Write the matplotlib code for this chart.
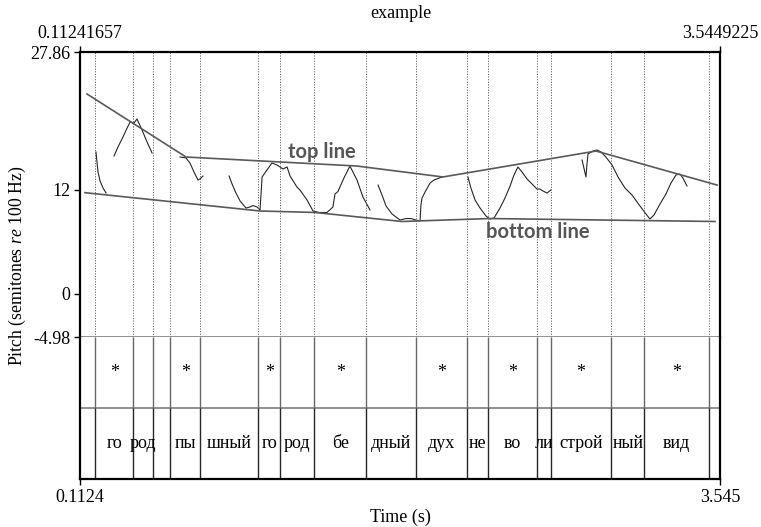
import matplotlib
matplotlib.use("Agg")
import matplotlib.pyplot as plt

plt.rcParams['font.family'] = ['Liberation Serif', 'DejaVu Serif']
plt.rcParams['mathtext.fontset'] = 'custom'
plt.rcParams['mathtext.rm'] = 'Liberation Serif'
plt.rcParams['mathtext.it'] = 'Liberation Serif:italic'

# ---- data ----
t_min, t_max = 0.11241657, 3.5449225
p_min, p_max = -4.98, 27.86
y_ticks = [27.86, 12, 0, -4.98]
y_tick_labels = ['27.86', '12', '0', '-4.98']

# pitch contour segments (time s, semitones re 100 Hz)
seg_a_t = [0.198, 0.204, 0.209, 0.220, 0.236, 0.252]
seg_a_p = [16.34, 15.07, 14.03, 13.00, 12.19, 11.61]
seg_b_t = [0.295, 0.316, 0.343, 0.365, 0.381, 0.402, 0.418, 0.445, 0.472, 0.499]
seg_b_p = [15.88, 16.91, 18.07, 19.10, 19.79, 19.68, 20.14, 18.87, 17.49, 16.22]
seg_c_t = [0.649, 0.681, 0.702, 0.724, 0.745, 0.756, 0.772]
seg_c_p = [15.76, 15.65, 15.07, 14.03, 13.11, 13.23, 13.57]
seg_d_t = [0.912, 0.928, 0.949, 0.971, 1.003, 1.024, 1.040, 1.062, 1.078, 1.083,
           1.089, 1.115, 1.142, 1.169, 1.185, 1.201, 1.223, 1.239, 1.276, 1.292,
           1.330, 1.362, 1.394, 1.437, 1.469, 1.480, 1.496, 1.528, 1.560, 1.598,
           1.630, 1.668]
seg_d_p = [13.57, 12.65, 11.61, 10.69, 9.88, 10.00, 10.17, 10.00, 9.65, 11.38,
           13.46, 14.26, 15.07, 14.84, 14.61, 14.38, 14.61, 13.57, 12.30, 11.96,
           10.81, 9.54, 9.37, 9.37, 10.00, 11.50, 11.79, 13.34, 14.72, 13.11,
           11.15, 9.65]
seg_e_t = [1.711, 1.732, 1.754, 1.786, 1.829, 1.861, 1.888, 1.914, 1.936, 1.941,
           1.947, 1.963, 1.990, 2.011, 2.032, 2.059]
seg_e_p = [12.53, 11.38, 10.11, 9.19, 8.50, 8.67, 8.67, 8.50, 8.39, 10.23,
           11.04, 11.73, 12.76, 13.11, 13.28, 13.51]
seg_f_t = [2.193, 2.209, 2.231, 2.258, 2.290, 2.311, 2.333, 2.365, 2.392, 2.419,
           2.440, 2.461, 2.483, 2.510, 2.537, 2.563, 2.579, 2.596, 2.617, 2.638]
seg_f_p = [13.46, 12.19, 10.81, 9.88, 8.96, 8.62, 8.73, 9.88, 11.04, 12.42,
           13.69, 14.61, 14.03, 13.23, 12.65, 12.07, 12.07, 11.84, 11.61, 11.96]
seg_g_t = [2.805, 2.815, 2.826, 2.831, 2.837, 2.864, 2.885, 2.907, 2.933, 2.966,
           2.998, 3.035, 3.073, 3.116, 3.148, 3.169, 3.191, 3.223, 3.255, 3.282,
           3.309, 3.330, 3.346, 3.368]
seg_g_p = [15.42, 14.49, 13.46, 14.84, 16.11, 16.45, 16.57, 16.34, 15.76, 14.84,
           13.46, 12.19, 11.38, 10.11, 9.19, 8.62, 9.08, 10.34, 11.50, 12.76,
           13.69, 13.80, 13.34, 12.42]
segments = [(seg_a_t, seg_a_p), (seg_b_t, seg_b_p), (seg_c_t, seg_c_p),
            (seg_d_t, seg_d_p), (seg_e_t, seg_e_p), (seg_f_t, seg_f_p),
            (seg_g_t, seg_g_p)]

top_line_t = [0.150, 0.681, 1.598, 2.059, 2.880, 3.529]
top_line_p = [23.02, 15.76, 14.72, 13.46, 16.45, 12.53]
bottom_line_t = [0.139, 1.078, 1.373, 1.839, 2.311, 3.518]
bottom_line_p = [11.65, 9.54, 9.37, 8.33, 8.67, 8.33]
top_label_pos = (1.410, 16.34)
bottom_label_pos = (2.569, 7.13)

# TextGrid intervals
boundaries = [0.1945, 0.3967, 0.505, 0.5972, 0.7581, 1.0692, 1.1861, 1.3674,
              1.6485, 1.9129, 2.1896, 2.3023, 2.5651, 2.6359, 2.962, 3.1389, 3.4876]
syllables = ['', 'го', 'род', '', 'пы', 'шный', 'го', 'род', 'бе', 'дный',
             'дух', 'не', 'во', 'ли', 'строй', 'ный', 'вид', '']
stress = ['', '*', '', '', '*', '', '*', '', '*', '', '*', '', '*', '', '*', '', '*', '']

# ---- figure ----
fig = plt.figure(figsize=(7.61, 5.27), dpi=100)
W, H = 761, 527
left, right = 80 / W, 720 / W
ax_p = fig.add_axes([left, 1 - 337 / H, right - left, (337 - 52) / H])
ax_t = fig.add_axes([left, 1 - 479 / H, right - left, (479 - 337) / H])

black_lw = 1.6
# pitch panel
for tt, pp in segments:
    ax_p.plot(tt, pp, color='0.15', lw=0.8)
ax_p.plot(top_line_t, top_line_p, color='0.35', lw=1.2)
ax_p.plot(bottom_line_t, bottom_line_p, color='0.35', lw=1.2)
for b in boundaries:
    ax_p.axvline(b, color='0.4', lw=0.7, ls=(0, (1.2, 1.5)))
ax_p.text(*top_label_pos, 'top line', family=['Lato', 'DejaVu Sans'], weight='bold',
          fontsize=14.5, color='#555555', ha='center', va='center')
ax_p.text(*bottom_label_pos, 'bottom line', family=['Lato', 'DejaVu Sans'], weight='bold',
          fontsize=14.5, color='#555555', ha='center', va='center')

ax_p.set_xlim(t_min, t_max)
ax_p.set_ylim(p_min, p_max)
ax_p.set_yticks(y_ticks)
ax_p.set_yticklabels(y_tick_labels)
ax_p.xaxis.tick_top()
ax_p.set_xticks([t_min, t_max])
ax_p.set_xticklabels(['0.11241657', '3.5449225'])
ax_p.tick_params(axis='both', direction='out', length=4, width=1, labelsize=13, pad=3)
for s in ['left', 'top', 'right']:
    ax_p.spines[s].set_linewidth(black_lw)
    ax_p.spines[s].set_color('black')
ax_p.spines['bottom'].set_color('0.45')
ax_p.spines['bottom'].set_linewidth(1.1)

# tier panel
ax_t.set_xlim(t_min, t_max)
ax_t.set_ylim(0, 2)
ax_t.axhline(1, color='0.45', lw=1.1)
ax_t.vlines(boundaries, 1, 2, color='0.4', lw=1.0)
ax_t.vlines(boundaries, 0, 1, color='0.15', lw=1.0)
edges = [t_min] + boundaries + [t_max]
for i in range(len(edges) - 1):
    mid = 0.5 * (edges[i] + edges[i + 1])
    if stress[i]:
        ax_t.text(mid, 1.5, stress[i], ha='center', va='center', fontsize=13)
    if syllables[i]:
        ax_t.text(mid, 0.5, syllables[i], ha='center', va='center', fontsize=13)
ax_t.set_yticks([])
ax_t.set_xticks([t_min, t_max])
ax_t.set_xticklabels(['0.1124', '3.545'])
ax_t.tick_params(axis='x', direction='out', length=4, width=1, labelsize=13, pad=3)
ax_t.spines['top'].set_visible(False)
for s in ['left', 'bottom', 'right']:
    ax_t.spines[s].set_linewidth(black_lw)
    ax_t.spines[s].set_color('black')
ax_t.set_xlabel('Time (s)', fontsize=13, labelpad=2)

fig.text(401 / W, 1 - 13 / H, 'example', ha='center', va='center', fontsize=13)
fig.text(17 / W, 1 - 266 / H, r'Pitch (semitones $\mathit{re}$ 100 Hz)', rotation=90,
         ha='center', va='center', fontsize=12.8)

fig.savefig('out.png', dpi=100)
